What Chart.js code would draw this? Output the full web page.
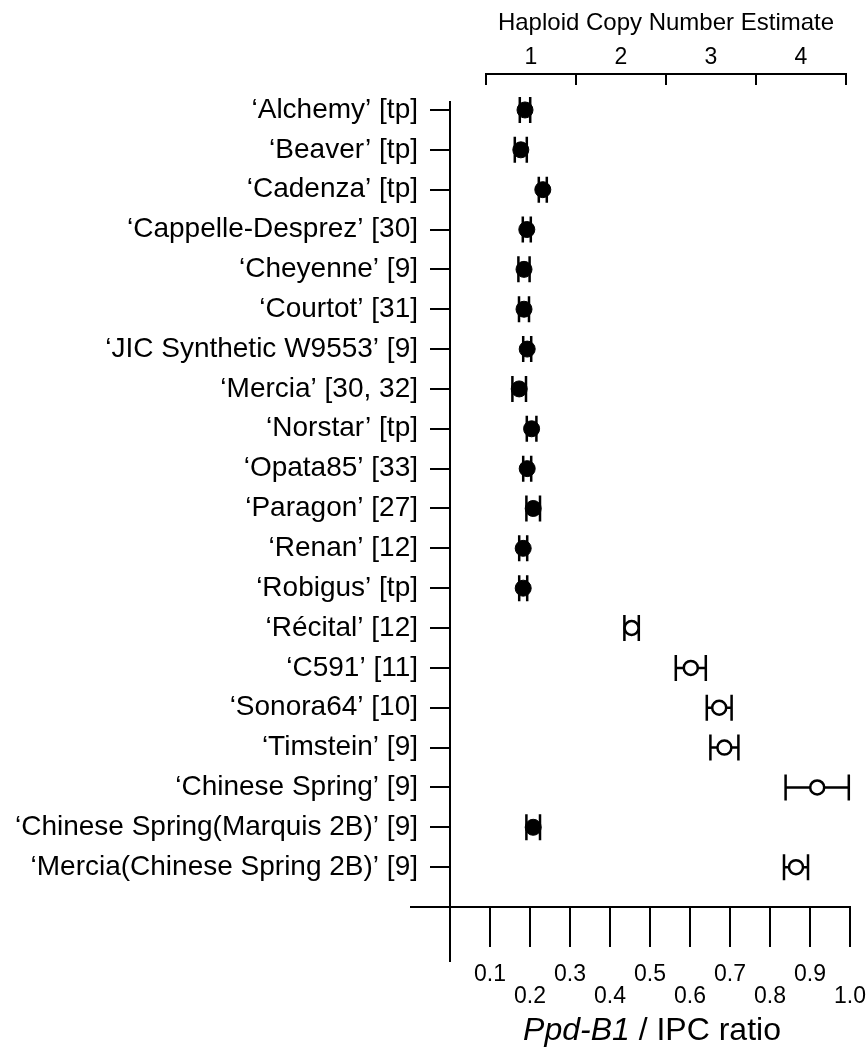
<!DOCTYPE html>
<html>
<head>
<meta charset="utf-8">
<title>Ppd-B1 copy number</title>
<script src="https://cdn.jsdelivr.net/npm/chart.js@4.4.1/dist/chart.umd.min.js"></script>
<style>
  html, body { margin: 0; padding: 0; background: #fff; }
  canvas { display: block; }
</style>
</head>
<body>
<canvas id="grafica" width="866" height="1047"></canvas>
<script>
// Datos
const cultivars = [
  '\u2018Alchemy\u2019 [tp]',
  '\u2018Beaver\u2019 [tp]',
  '\u2018Cadenza\u2019 [tp]',
  '\u2018Cappelle-Desprez\u2019 [30]',
  '\u2018Cheyenne\u2019 [9]',
  '\u2018Courtot\u2019 [31]',
  '\u2018JIC Synthetic W9553\u2019 [9]',
  '\u2018Mercia\u2019 [30, 32]',
  '\u2018Norstar\u2019 [tp]',
  '\u2018Opata85\u2019 [33]',
  '\u2018Paragon\u2019 [27]',
  '\u2018Renan\u2019 [12]',
  '\u2018Robigus\u2019 [tp]',
  '\u2018R\u00e9cital\u2019 [12]',
  '\u2018C591\u2019 [11]',
  '\u2018Sonora64\u2019 [10]',
  '\u2018Timstein\u2019 [9]',
  '\u2018Chinese Spring\u2019 [9]',
  '\u2018Chinese Spring(Marquis 2B)\u2019 [9]',
  '\u2018Mercia(Chinese Spring 2B)\u2019 [9]'
];

// Ppd-B1 / IPC ratio (una copia = relleno, varias copias = abierto)
const ratioSingleCopy = [0.1875, 0.177, 0.232, 0.192, 0.185, 0.185, 0.193, 0.173, 0.204, 0.193,
                         0.208, 0.183, 0.183, null, null, null, null, null, 0.208, null];
const ratioMultiCopy  = [null, null, null, null, null, null, null, null, null, null,
                         null, null, null, 0.454, 0.602, 0.673, 0.686, 0.918, null, 0.865];
const ratioError      = [0.013, 0.015, 0.010, 0.010, 0.014, 0.0125, 0.010, 0.017, 0.012, 0.010,
                         0.017, 0.010, 0.010, 0.018, 0.0375, 0.031, 0.035, 0.079, 0.017, 0.030];

const ratioTicks = [0.1, 0.2, 0.3, 0.4, 0.5, 0.6, 0.7, 0.8, 0.9, 1.0];
const copyNumberTicks = [1, 2, 3, 4];
const copyNumberBounds = [0.5, 1.5, 2.5, 3.5, 4.5];

const FONT = "'Liberation Sans', Arial, Helvetica, sans-serif";

function buildPoints(values) {
  const pts = [];
  values.forEach((v, i) => {
    if (v !== null) pts.push({ x: v, y: i, err: ratioError[i] });
  });
  return pts;
}

// Barras de error horizontales (antes de los puntos)
const errorBars = {
  id: 'errorBars',
  beforeDatasetsDraw(chart) {
    const { ctx } = chart;
    const xs = chart.scales.x, ys = chart.scales.y;
    ctx.save();
    ctx.strokeStyle = '#000';
    ctx.lineWidth = 2.5;
    chart.data.datasets.forEach(ds => {
      ds.data.forEach(p => {
        const py = ys.getPixelForValue(p.y);
        const x0 = xs.getPixelForValue(p.x - p.err);
        const x1 = xs.getPixelForValue(p.x + p.err);
        ctx.beginPath();
        ctx.moveTo(x0, py); ctx.lineTo(x1, py);
        ctx.moveTo(x0, py - 13); ctx.lineTo(x0, py + 13);
        ctx.moveTo(x1, py - 13); ctx.lineTo(x1, py + 13);
        ctx.stroke();
      });
    });
    ctx.restore();
  }
};

// Ejes cruzados, corchete superior y titulos
const axisExtras = {
  id: 'axisExtras',
  afterDraw(chart) {
    const { ctx, chartArea } = chart;
    const xs = chart.scales.x, top = chart.scales.x2;
    ctx.save();
    ctx.strokeStyle = '#000';
    ctx.fillStyle = '#000';
    ctx.lineWidth = 2;

    // eje vertical completo y prolongacion del eje horizontal
    const x0 = xs.getPixelForValue(0);
    ctx.beginPath();
    ctx.moveTo(x0, chartArea.top);
    ctx.lineTo(x0, chartArea.bottom + 55);
    ctx.moveTo(xs.getPixelForValue(-0.1), chartArea.bottom);
    ctx.lineTo(x0, chartArea.bottom);
    ctx.stroke();

    // corchete del eje superior
    const yb = 74;
    const first = top.getPixelForValue(copyNumberBounds[0]);
    const last = top.getPixelForValue(copyNumberBounds[copyNumberBounds.length - 1]);
    ctx.beginPath();
    ctx.moveTo(first, yb);
    ctx.lineTo(last, yb);
    copyNumberBounds.forEach(b => {
      const px = top.getPixelForValue(b);
      ctx.moveTo(px, yb - 1);
      ctx.lineTo(px, yb + 11);
    });
    ctx.stroke();

    ctx.textBaseline = 'middle';
    ctx.textAlign = 'center';
    ctx.font = '24px ' + FONT;
    ctx.fillText('Haploid Copy Number Estimate', (first + last) / 2, 23);

    // titulo inferior con parte en cursiva
    const a = 'Ppd-B1', b = ' / IPC ratio';
    ctx.textAlign = 'left';
    ctx.font = 'italic 32px ' + FONT;
    const wa = ctx.measureText(a).width;
    ctx.font = '32px ' + FONT;
    const wb = ctx.measureText(b).width;
    const cx = (chartArea.left + chartArea.right) / 2 + 2;
    let sx = cx - (wa + wb) / 2;
    ctx.font = 'italic 32px ' + FONT;
    ctx.fillText(a, sx, 1031);
    ctx.font = '32px ' + FONT;
    ctx.fillText(b, sx + wa, 1031);
    ctx.restore();
  }
};

const ctx = document.getElementById('grafica').getContext('2d');
const chartInstance = new Chart(ctx, {
  type: 'scatter',
  data: {
    datasets: [
      {
        label: 'single copy',
        data: buildPoints(ratioSingleCopy),
        pointRadius: 8,
        pointHoverRadius: 8,
        backgroundColor: '#000',
        borderColor: '#000',
        borderWidth: 1
      },
      {
        label: 'multi copy',
        data: buildPoints(ratioMultiCopy),
        pointRadius: 7,
        pointHoverRadius: 7,
        backgroundColor: '#fff',
        borderColor: '#000',
        borderWidth: 2.5
      }
    ]
  },
  options: {
    responsive: false,
    devicePixelRatio: 1,
    animation: false,
    events: [],
    layout: { padding: { left: 0, top: 0, right: 16, bottom: 0 } },
    plugins: {
      legend: { display: false },
      tooltip: { enabled: false }
    },
    scales: {
      x: {
        type: 'linear',
        position: 'bottom',
        min: 0,
        max: 1,
        afterBuildTicks: s => { s.ticks = ratioTicks.map(v => ({ value: v })); },
        afterFit: s => { s.height = 140; s.paddingLeft = 0; s.paddingRight = 0; },
        ticks: {
          autoSkip: false,
          maxRotation: 0,
          minRotation: 0,
          padding: 17,
          color: '#000',
          font: { family: FONT, size: 23, lineHeight: '22px' },
          callback: (v, i) => {
            const t = Number(v).toFixed(1);
            return i % 2 === 0 ? [t, ''] : ['', t];
          }
        },
        grid: { drawOnChartArea: false, drawTicks: true, tickLength: 40, color: '#000', lineWidth: 2 },
        border: { display: true, color: '#000', width: 2 }
      },
      x2: {
        type: 'linear',
        position: 'top',
        min: 0.1,
        max: 4.5444,
        afterBuildTicks: s => { s.ticks = copyNumberTicks.map(v => ({ value: v })); },
        afterFit: s => { s.height = 101; s.paddingLeft = 0; s.paddingRight = 0; },
        ticks: {
          autoSkip: false,
          maxRotation: 0,
          minRotation: 0,
          padding: 30,
          color: '#000',
          font: { family: FONT, size: 23, lineHeight: 1.2 },
          callback: v => String(v)
        },
        grid: { display: false, drawTicks: false },
        border: { display: false }
      },
      y: {
        type: 'linear',
        position: 'left',
        reverse: true,
        min: -0.225,
        max: 20,
        afterBuildTicks: s => { s.ticks = cultivars.map((_, i) => ({ value: i })); },
        afterFit: s => { s.width = 450; s.paddingTop = 0; s.paddingBottom = 0; },
        ticks: {
          autoSkip: false,
          padding: 12,
          color: '#000',
          font: { family: FONT, size: 28 },
          callback: v => cultivars[v]
        },
        grid: { drawOnChartArea: false, drawTicks: true, tickLength: 20, color: '#000', lineWidth: 2 },
        border: { display: false }
      }
    }
  },
  plugins: [errorBars, axisExtras]
});
</script>
</body>
</html>
